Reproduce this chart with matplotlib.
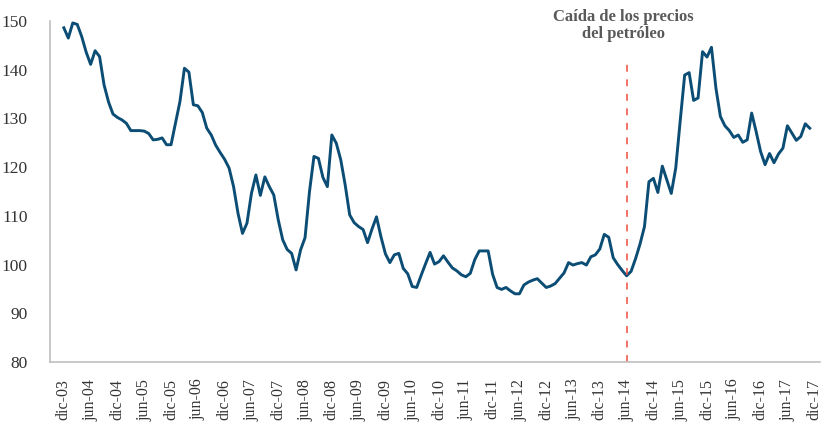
import numpy as np
import matplotlib
matplotlib.use("Agg")
import matplotlib.pyplot as plt

# monthly index, dic-03 .. dic-17
values = [
    148.6, 146.5, 149.6, 149.3, 146.8, 143.6, 141.1, 143.9, 142.7, 136.9,
    133.4, 130.9, 130.2, 129.7, 129.0, 127.5, 127.5, 127.5, 127.4, 126.9,
    125.6, 125.7, 126.0, 124.6, 124.6, 129.0, 133.5, 140.3, 139.5, 132.8,
    132.6, 131.2, 128.0, 126.6, 124.5, 123.0, 121.6, 119.8, 116.0, 110.5,
    106.4, 108.5, 114.6, 118.4, 114.2, 118.0, 116.0, 114.3, 109.2, 105.1,
    103.1, 102.3, 98.9, 103.0, 105.5, 115.0, 122.2, 121.8, 117.9, 116.0,
    126.6, 124.9, 121.5, 116.3, 110.2, 108.6, 107.8, 107.2, 104.5, 107.3,
    109.8, 105.7, 102.2, 100.4, 102.0, 102.3, 99.2, 98.1, 95.5, 95.3,
    97.8, 100.2, 102.5, 100.1, 100.6, 101.8, 100.5, 99.3, 98.7, 97.9,
    97.5, 98.2, 101.0, 102.8, 102.8, 102.8, 98.0, 95.3, 94.9, 95.3,
    94.6, 94.0, 94.0, 95.8, 96.4, 96.8, 97.1, 96.2, 95.3, 95.6,
    96.1, 97.2, 98.3, 100.4, 99.9, 100.2, 100.4, 99.9, 101.6, 102.0,
    103.2, 106.2, 105.6, 101.4, 100.0, 98.8, 97.7, 98.6, 101.2, 104.2,
    107.8, 117.0, 117.7, 114.8, 120.2, 117.4, 114.6, 119.8, 129.5, 138.9,
    139.4, 133.7, 134.2, 143.7, 142.6, 144.6, 136.2, 130.4, 128.5, 127.5,
    126.1, 126.6, 125.1, 125.6, 131.1, 127.3, 123.2, 120.5, 122.8, 120.9,
    122.7, 123.9, 128.5, 127.0, 125.5, 126.3, 128.9, 128.0,
]

tick_labels = []
for yr in range(3, 18):
    if yr > 3:
        tick_labels.append("jun-%02d" % yr)
    tick_labels.append("dic-%02d" % yr)

event_month = 126  # jun-14
event_text = "Caída de los precios\ndel petróleo"

plt.rcParams['font.family'] = ['Liberation Serif', 'DejaVu Serif']

fig = plt.figure(figsize=(8.25, 4.29), dpi=100)
ax = fig.add_axes([50/825, 1-362/429, 770/825, (362-21)/429])

x = np.arange(len(values))
ax.plot(x, values, color="#0b4d74", lw=2.1, solid_joinstyle="round")

ax.vlines(event_month, 80, 141.6, colors="#f04a3c", lw=1.1,
          linestyles=(0, (4.5, 5)))
ax.text(event_month - 0.8, 149.1, event_text, ha="center", va="center",
        fontsize=12, fontweight="bold", color="#595959",
        linespacing=1.1, clip_on=False)

ax.set_xlim(-3.1, 169.3)
ax.set_ylim(80, 150)
ax.set_yticks(range(80, 151, 10))
ax.set_xticks(np.arange(0, 169, 6))
ax.set_xticklabels(tick_labels, rotation=90)

for s in ["top", "right"]:
    ax.spines[s].set_visible(False)
for s in ["left", "bottom"]:
    ax.spines[s].set_color("#bfbfbf")
    ax.spines[s].set_linewidth(1.2)

ax.tick_params(axis="both", length=0, colors="#333333")
ax.tick_params(axis="y", labelsize=12.5, pad=16)
ax.tick_params(axis="x", labelsize=11.5, pad=12)

fig.savefig("out.png", dpi=100)
